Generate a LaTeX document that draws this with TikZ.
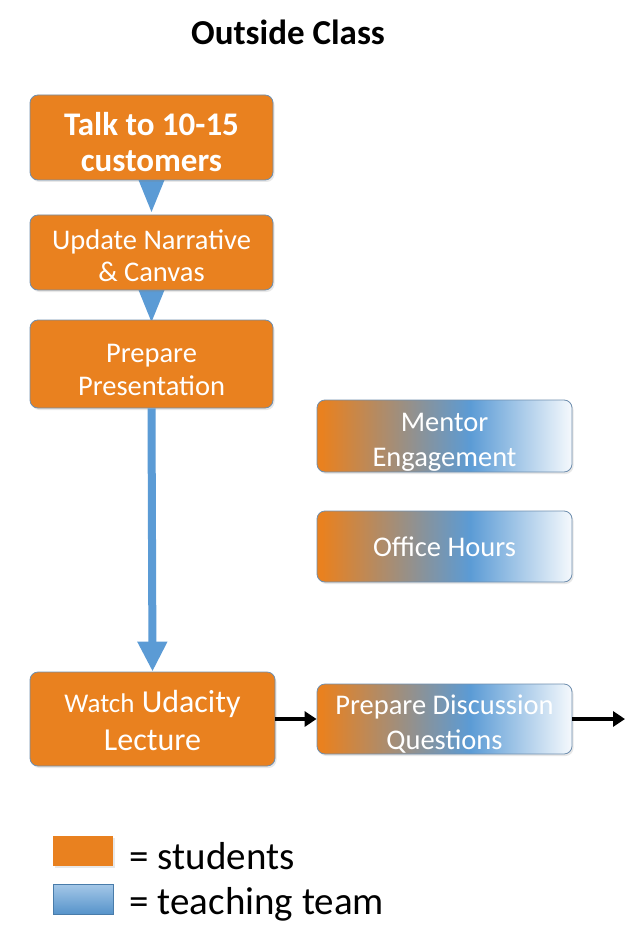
\documentclass[tikz,border=0pt]{standalone}
\usepackage{fontspec}
\setmainfont{Carlito}
\usetikzlibrary{arrows.meta,calc,shadows}
\definecolor{orng}{HTML}{E9811F}
\definecolor{blu}{HTML}{5B9BD5}
\definecolor{bord}{HTML}{6F8FAF}
\newcommand\tpad[1]{\rule{0pt}{#1pt}}
\pgfdeclarehorizontalshading{obw}{100bp}{color(0bp)=(orng); color(26bp)=(orng); color(55bp)=(blu); color(75bp)=(blu!6); color(100bp)=(blu!6)}
\tikzset{
  box/.style={rounded corners=8pt, draw=bord, line width=0.8pt, text=white, align=center, inner sep=0pt,
    drop shadow={opacity=0.18, shadow xshift=1.5pt, shadow yshift=-2pt}},
  sbox/.style={box, fill=orng},
  tbox/.style={box, shading=obw},
  txtA/.style={font=\fontsize{28.5}{33}\selectfont},
  conn/.style={fill=blu, draw=none},
  blk/.style={line width=3.5pt, -{Triangle[width=15pt,length=12pt]}}
}
\begin{document}
\begin{tikzpicture}[x=1pt,y=-1pt]
\useasboundingbox[fill=white] (0,0) rectangle (625,933);
\node[font=\fontsize{35}{40}\selectfont\bfseries] (title) at (288,32) {Outside Class};
% connectors first
\coordinate (t1) at (151.5,180);
\coordinate (t2) at (151.5,290);
\fill[conn] ($(t1)+(-13,0)$) -- ($(t1)+(13,0)$) -- ($(t1)+(0,32)$) -- cycle;
\fill[conn] ($(t2)+(-13,0)$) -- ($(t2)+(13,0)$) -- ($(t2)+(0,32)$) -- cycle;
% boxes
\node[sbox, minimum width=243pt, minimum height=85pt, font=\fontsize{33}{36}\selectfont\bfseries] (b1) at (151.5,137.5) {\tpad{33}Talk to 10-15\\customers};
\node[sbox, minimum width=243pt, minimum height=75pt, font=\fontsize{28.5}{32}\selectfont] (b2) at (151.5,252.5) {\tpad{26}Update Narrative\\\& Canvas};
\node[sbox, minimum width=243pt, minimum height=88pt, txtA] (b3) at (151.5,364) {\tpad{30}Prepare\\Presentation};
\node[sbox, minimum width=245pt, minimum height=94pt, font=\fontsize{32}{38}\selectfont] (b4) at (152.5,719) {\tpad{26}{\fontsize{27}{38}\selectfont Watch} Udacity\\Lecture};
\node[tbox, minimum width=255pt, minimum height=72pt, font=\fontsize{28.5}{35}\selectfont] (m1) at (444.5,436) {\tpad{30}Mentor\\Engagement};
\node[tbox, minimum width=255pt, minimum height=71pt, txtA] (m2) at (444.5,546.5) {Office Hours};
\node[tbox, minimum width=255pt, minimum height=70pt, font=\fontsize{28.5}{35}\selectfont] (b5) at (444.5,719) {\tpad{30}Prepare Discussion\\Questions};
% long arrow
\draw[blu, line width=8pt, -{Triangle[width=28pt,length=30pt]}] (b3.south) -- (b4.north);
% black arrows
\coordinate (endp) at (625,719);
\draw[blk] (b4.east) -- (b5.west);
\draw[blk] (b5.east) -- (endp);
% legend
\node[fill=orng, minimum width=60pt, minimum height=30pt, inner sep=0pt, drop shadow={opacity=0.18, shadow xshift=1.5pt, shadow yshift=-2pt}] (ls) at (83,851) {};
\node[top color=blu!55, bottom color=blu!95!black, draw=blu!80!black, line width=0.4pt, minimum width=60pt, minimum height=30pt, inner sep=0pt] (lt) at (83,899) {};
\node[anchor=west, font=\fontsize{39}{44}\selectfont] (lst) at (126,856) {= students};
\node[anchor=west, font=\fontsize{39}{44}\selectfont] (ltt) at (126,904) {= teaching team};
\end{tikzpicture}
\end{document}
